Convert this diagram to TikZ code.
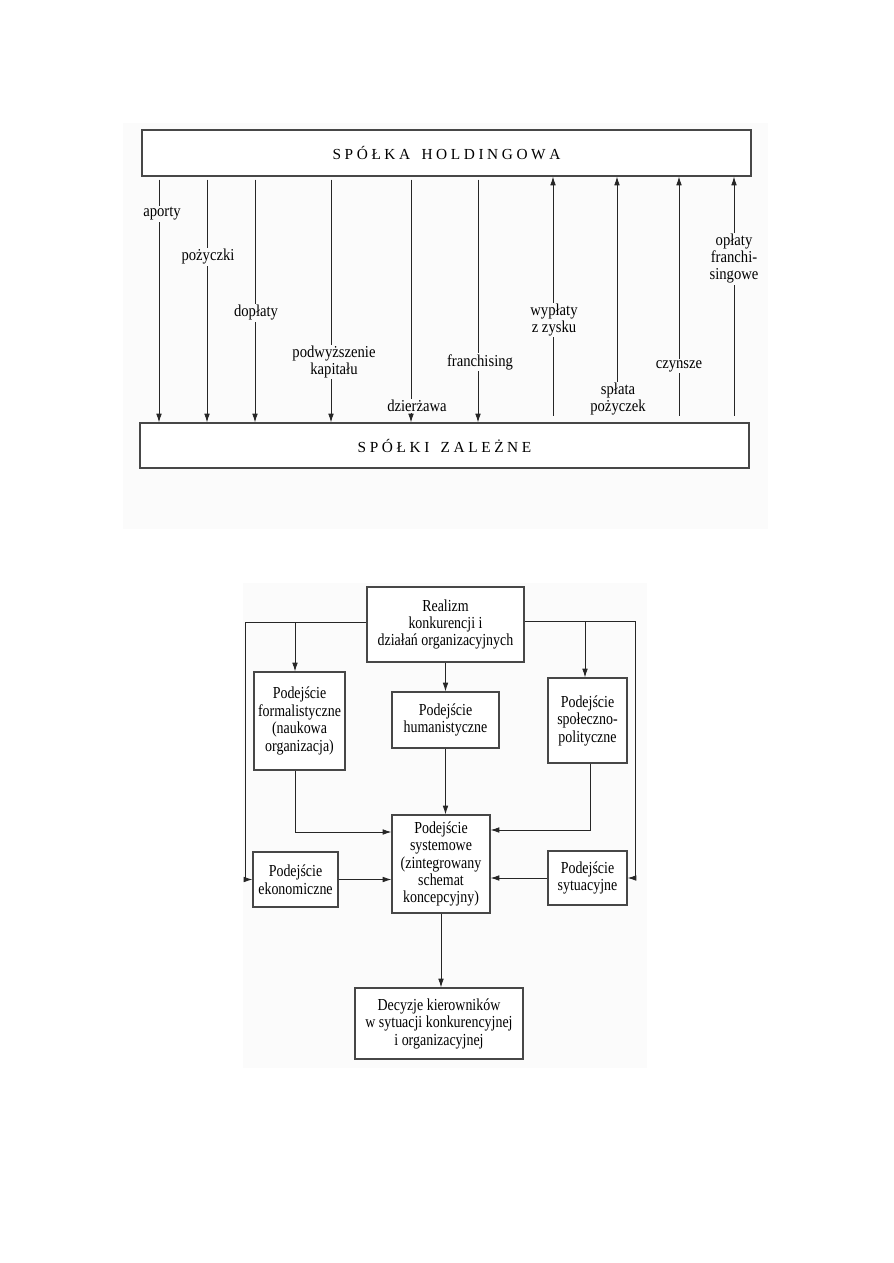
\documentclass[tikz,border=0pt]{standalone}
\usepackage{fontspec}
\setmainfont{Liberation Serif}
\newfontfamily\nserif[FakeStretch=0.88]{Liberation Serif}
\newfontfamily\bserif[FakeStretch=0.83]{Liberation Serif}
\usetikzlibrary{arrows.meta}
\definecolor{bgc}{RGB}{251,251,251}
\newcommand\lk{\kern2.7pt}
\newcommand\lw{\kern8.5pt}
\begin{document}
\begin{tikzpicture}[x=0.75pt,y=-0.75pt,
  box/.style={draw=black!72, line width=0.9pt, fill=white, inner sep=0pt, align=center},
  arr/.style={draw=black!85, line width=0.6pt, -{Latex[length=6.5pt,width=4.2pt]}},
  lbl/.style={fill=bgc, inner sep=1pt, align=center, font=\nserif\fontsize{12.5}{12.75}\selectfont},
  bt/.style={font=\bserif\fontsize{12.6}{13.1}\selectfont},
  hdr/.style={font=\fontsize{11.5}{13}\selectfont}]
\useasboundingbox (0,0) rectangle (893,1263);
% faint backgrounds
\fill[bgc] (123,123) rectangle (768,529);
\fill[bgc] (243,583) rectangle (647,1068);

% ---------- top diagram ----------
\node[box, minimum width=456.75pt, minimum height=34.5pt, hdr] (hold) at (446.5,153)
  {S\lk P\lk Ó\lk Ł\lk K\lk A\lw H\lk O\lk L\lk D\lk I\lk N\lk G\lk O\lk W\lk A};
\node[box, minimum width=456.75pt, minimum height=33.75pt, hdr] (zal) at (444.5,445.5)
  {S\lk P\lk Ó\lk Ł\lk K\lk I\lw Z\lk A\lk L\lk E\lk Ż\lk N\lk E};

\foreach \n/\x in {a/159,b/207,c/255,d/331,e/411,f/478,g/553,h/617,i/679,j/734}
  \coordinate (x\n) at (\x,300);

\foreach \n in {a,b,c,d,e,f}
  \draw[arr, shorten <=2.25pt] (hold.south -| x\n) -- (zal.north -| x\n);
\foreach \n in {g,h,i,j}
  \draw[arr, shorten <=5pt] (zal.north -| x\n) -- (hold.south -| x\n);

\node[lbl] (la) at (162,214) {aporty};
\node[lbl] (lb) at (208,257) {pożyczki};
\node[lbl] (lc) at (256,313) {dopłaty};
\node[lbl] (ld) at (334,362) {podwyższenie\\kapitału};
\node[lbl] (le) at (417,406) {dzierżawa};
\node[lbl] (lf) at (480,362) {franchising};
\node[lbl] (lg) at (554,320) {wypłaty\\z zysku};
\node[lbl] (lh) at (618,399) {spłata\\pożyczek};
\node[lbl] (li) at (679,366) {czynsze};
\node[lbl] (lj) at (734,259) {opłaty\\franchi-\\singowe};

% ---------- bottom diagram ----------
\node[box, bt, minimum width=117.75pt, minimum height=56.25pt] (real) at (445.5,624.5)
  {Realizm\\konkurencji i\\działań organizacyjnych};
\node[box, bt, minimum width=68.25pt, minimum height=73.5pt] (form) at (299.5,721)
  {Podejście\\formalistyczne\\(naukowa\\organizacja)};
\node[box, bt, minimum width=80.25pt, minimum height=42pt] (hum) at (445.5,720)
  {Podejście\\humanistyczne};
\node[box, bt, minimum width=59.25pt, minimum height=63.75pt] (spol) at (587.5,720.5)
  {Podejście\\społeczno-\\polityczne};
\node[box, bt, minimum width=73.5pt, minimum height=73.5pt] (sys) at (441,864)
  {Podejście\\systemowe\\(zintegrowany\\schemat\\koncepcyjny)};
\node[box, bt, minimum width=63.75pt, minimum height=41.25pt] (eko) at (295.5,879.5)
  {Podejście\\ekonomiczne};
\node[box, bt, minimum width=59.25pt, minimum height=40.5pt] (syt) at (587.5,878)
  {Podejście\\sytuacyjne};
\node[box, bt, minimum width=126pt, minimum height=53.25pt] (dec) at (439,1023.5)
  {Decyzje kierowników\\w sytuacji konkurencyjnej\\i organizacyjnej};

\coordinate (lt) at (245,622);
\coordinate (rt) at (635,621);
\coordinate (fb) at (295,622);
\coordinate (sb) at (585,621);
\coordinate (fc) at (295,832);
\coordinate (sc) at (590,830);

\draw[arr] (real.west |- lt) -- (lt) -- (lt |- eko.west) -- (eko.west);
\draw[arr] (real.east |- rt) -- (rt) -- (rt |- syt.east) -- (syt.east);
\draw[arr] (fb) -- (fb |- form.north);
\draw[arr] (sb) -- (sb |- spol.north);
\draw[arr] (real.south) -- (real.south |- hum.north);
\draw[arr] (fb |- form.south) -- (fc) -- (fc -| sys.west);
\draw[arr] (sc |- spol.south) -- (sc) -- (sc -| sys.east);
\draw[arr] (hum.south) -- (hum.south |- sys.north);
\draw[arr] (eko.east) -- (eko.east -| sys.west);
\draw[arr] (syt.west) -- (syt.west -| sys.east);
\draw[arr] (sys.south) -- (sys.south |- dec.north);
\end{tikzpicture}
\end{document}
